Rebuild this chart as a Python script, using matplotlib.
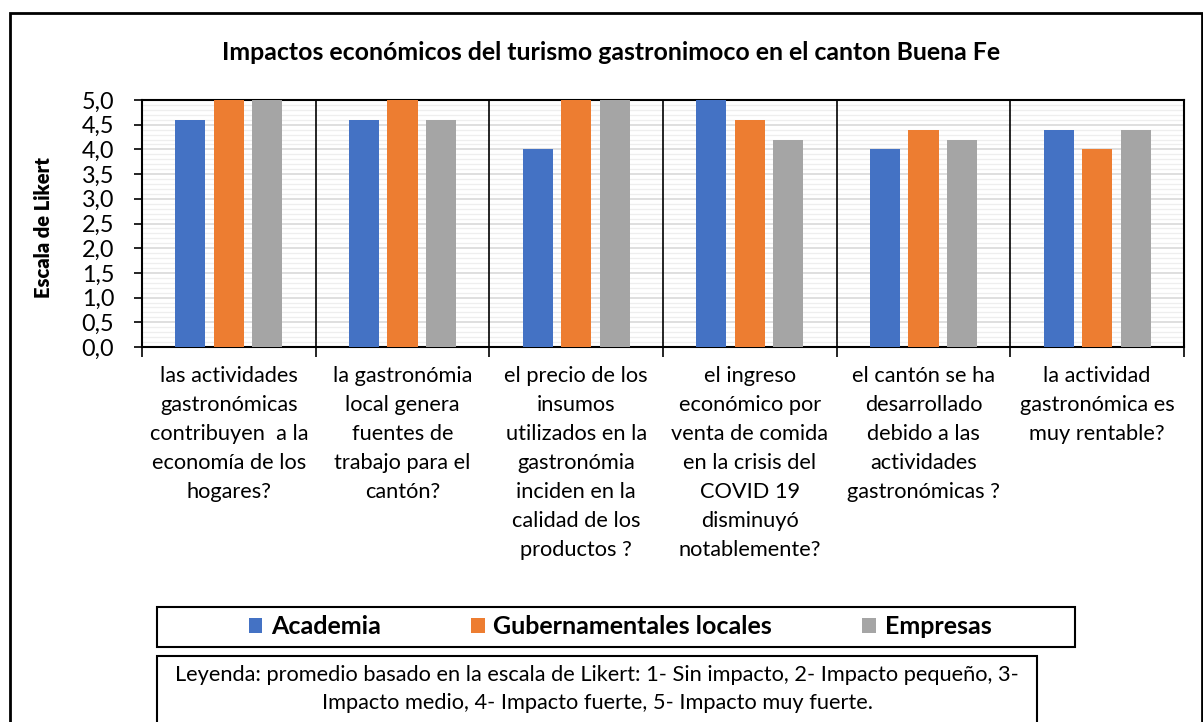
import numpy as np
import matplotlib
matplotlib.use("Agg")
import matplotlib.pyplot as plt
from matplotlib.patches import Rectangle
from matplotlib.ticker import MultipleLocator, FuncFormatter

plt.rcParams['font.family'] = ['Lato', 'DejaVu Sans']

# data
categories = [
    "las actividades\ngastronómicas\ncontribuyen  a la\neconomía de los\nhogares?",
    "la gastronómia\nlocal genera\nfuentes de\ntrabajo para el\ncantón?",
    "el precio de los\ninsumos\nutilizados en la\ngastronómia\ninciden en la\ncalidad de los\nproductos ?",
    "el ingreso\neconómico por\nventa de comida\nen la crisis del\nCOVID 19\ndisminuyó\nnotablemente?",
    "el cantón se ha\ndesarrollado\ndebido a las\nactividades\ngastronómicas ?",
    "la actividad\ngastronómica es\nmuy rentable?",
]
academia = [4.6, 4.6, 4.0, 5.0, 4.0, 4.4]
gubernamentales = [5.0, 5.0, 5.0, 4.6, 4.4, 4.0]
empresas = [5.0, 4.6, 5.0, 4.2, 4.2, 4.4]
series_names = ["Academia", "Gubernamentales locales", "Empresas"]
colors = ["#4472C4", "#ED7D31", "#A5A5A5"]

title = "Impactos económicos del turismo gastronimoco en el canton Buena Fe"
note = ("Leyenda: promedio basado en la escala de Likert: 1- Sin impacto, 2- Impacto pequeño, 3-\n"
        "Impacto medio, 4- Impacto fuerte, 5- Impacto muy fuerte.")

W, H = 1203, 722
fig = plt.figure(figsize=(W / 100, H / 100), dpi=100)

def fx(px):
    return px / W

def fy(py):
    return 1 - py / H

# outer chart border
fig.patches.append(Rectangle((fx(10), fy(740)), fx(1192), fy(13) - fy(740),
                             transform=fig.transFigure, fill=False,
                             edgecolor='black', linewidth=2))

ax = fig.add_axes([fx(142), fy(347), fx(1184 - 142), fy(100) - fy(347)])

x = np.arange(len(categories))
bw = 0.173
step = 0.222
bars = []
for i, (vals, c) in enumerate(zip([academia, gubernamentales, empresas], colors)):
    b = ax.bar(x + (i - 1) * step, vals, width=bw, color=c, zorder=3)
    bars.append(b)

ax.set_xlim(-0.5, len(categories) - 0.5)
ax.set_ylim(0, 5)
ax.yaxis.set_major_locator(MultipleLocator(0.5))
ax.yaxis.set_minor_locator(MultipleLocator(0.1))
ax.yaxis.set_major_formatter(FuncFormatter(lambda v, p: f"{v:.1f}".replace('.', ',')))
ax.grid(axis='y', which='major', color='#d9d9d9', linewidth=1.2, zorder=0)
ax.grid(axis='y', which='minor', color='#eeeeee', linewidth=0.9, zorder=0)
ax.tick_params(axis='y', which='major', direction='out', length=6, width=1.2,
               labelsize=16.8, pad=14)
ax.tick_params(axis='y', which='minor', length=0)

# category separators
for b in np.arange(0.5, len(categories) - 0.5, 1):
    ax.axvline(b, color='black', linewidth=1.2, zorder=2)

ax.set_xticks(x)
ax.set_xticklabels(categories, fontsize=15.7, linespacing=1.56, va='top')
ax.set_xticks(np.arange(-0.5, len(categories), 1), minor=True)
ax.tick_params(axis='x', which='major', length=0, pad=14)
ax.tick_params(axis='x', which='minor', direction='out', length=7, width=1.2)

for s in ax.spines.values():
    s.set_color('black')
    s.set_linewidth(1.5)

fig.text(fx(44), fy(228), "Escala de Likert", fontsize=14.5, fontweight='heavy',
         rotation=90, ha='center', va='center')
fig.text(fx(611), fy(52), title, fontsize=17.9, fontweight='bold',
         ha='center', va='center')

# legend box
fig.patches.append(Rectangle((fx(157), fy(647)), fx(1075 - 157), fy(607) - fy(647),
                             transform=fig.transFigure, fill=False,
                             edgecolor='black', linewidth=1.5))
leg = fig.legend(bars, series_names, loc='center', bbox_to_anchor=(fx(620), fy(627)),
                 ncol=3, frameon=False, prop={'weight': 'bold', 'size': 18},
                 handlelength=0.55, handleheight=0.55, handletextpad=0.35,
                 columnspacing=3.6)

# note box
fig.patches.append(Rectangle((fx(157), fy(740)), fx(1037 - 157), fy(656) - fy(740),
                             transform=fig.transFigure, fill=False,
                             edgecolor='black', linewidth=1.5))
fig.text(fx(597), fy(689), note, fontsize=15.7, ha='center', va='center',
         linespacing=1.5)

fig.savefig("out.png", dpi=100)
